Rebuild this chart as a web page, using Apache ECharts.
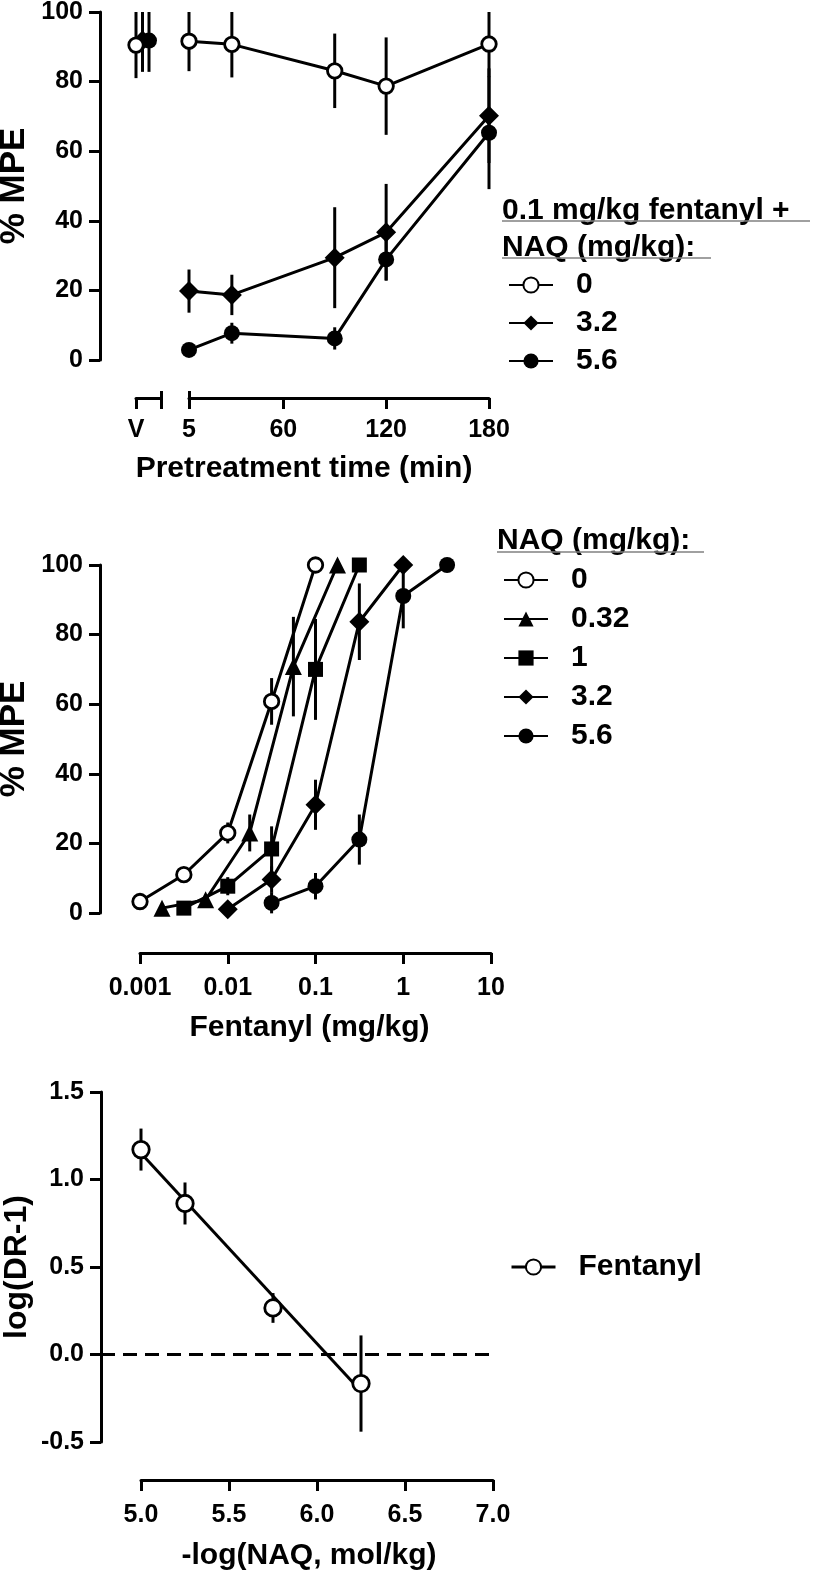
<!DOCTYPE html>
<html>
<head>
<meta charset="utf-8">
<script src="https://cdn.jsdelivr.net/npm/echarts@6.0.0/dist/echarts.min.js"></script>
<style>
  html, body { margin: 0; padding: 0; background: #fff; }
  #chart { width: 813px; height: 1570px; }
</style>
</head>
<body>
<div id="chart"></div>
<script>
// ---- panel A: 0.1 mg/kg fentanyl + NAQ, time course ----
var times = [5, 30, 90, 120, 180]
var timeTicks = [5, 60, 120, 180]
var naq0Mean = [91.6, 90.7, 83.1, 78.7, 90.8]
var naq0Sem = [8.6, 9.5, 10.7, 14, 9.5]
var naq32Mean = [19.8, 18.7, 29.4, 36.7, 70.2]
var naq32Sem = [6.2, 5.8, 14.5, 13.9, 13.6]
var naq56Mean = [2.9, 7.7, 6.2, 28.9, 65.3]
var naq56Sem = [1, 3, 3.2, 6, 16.2]
// vehicle points (V), order: 0, 3.2, 5.6
var vehMean = [90.5, 91.8, 91.8]
var vehSem = [9.5, 9, 9]

// ---- panel B: fentanyl dose-effect curves ----
var dose0 = [0.001, 0.00316, 0.01, 0.0316, 0.1]
var mpe0 = [3.3, 11, 23, 60.8, 100]
var sem0 = [0.5, 1, 3, 6.7, 0]
var dose032 = [0.00178, 0.0056, 0.0178, 0.056, 0.178]
var mpe032 = [1.4, 3.8, 23, 70.8, 100]
var sem032 = [0.5, 1, 5.3, 14.3, 0]
var dose1 = [0.00316, 0.01, 0.0316, 0.1, 0.316]
var mpe1 = [1.4, 7.7, 18.4, 70, 100]
var sem1 = [0.5, 2.6, 6.5, 14.5, 0]
var dose32 = [0.01, 0.0316, 0.1, 0.316, 1]
var mpe32 = [1.1, 9.6, 31.1, 83.7, 100]
var sem32 = [0.5, 3.8, 7.2, 11, 0]
var dose56 = [0.0316, 0.1, 0.316, 1, 3.16]
var mpe56 = [2.9, 7.7, 21.1, 91.1, 100]
var sem56 = [3, 3.8, 7.2, 9.3, 0]

// ---- panel C: Schild plot ----
var negLogNaq = [5.0, 5.25, 5.75, 6.25]
var logDr = [1.171, 0.863, 0.266, -0.166]
var logDrSem = [0.12, 0.12, 0.085, 0.275]
var fitX = [5.0, 6.25]
var fitY = [1.15, -0.21]
var refLevel = 0

var font = '"Liberation Sans", Arial, sans-serif'
var black = '#000'
var lw = 3
var tickText = { color: black, fontSize: 25, fontWeight: 'bold', fontFamily: font }
var bigText = { color: black, fontSize: 30, fontWeight: 'bold', fontFamily: font }

var markers = {
  open: { symbol: 'circle', symbolSize: 14.5, itemStyle: { color: '#fff', borderColor: black, borderWidth: 2.8 } },
  diamond: { symbol: 'diamond', symbolSize: 20, itemStyle: { color: black } },
  dot: { symbol: 'circle', symbolSize: 16, itemStyle: { color: black } },
  triangle: { symbol: 'triangle', symbolSize: 17, itemStyle: { color: black } },
  square: { symbol: 'rect', symbolSize: 15, itemStyle: { color: black } }
}

function pairs(xs, ys) {
  return xs.map(function(x, i) { return [x, ys[i]] })
}

var axisLineStyle = { show: true, onZero: false, lineStyle: { color: black, width: lw } }

function xAxisBase(grid, extra) {
  return Object.assign({
    gridIndex: grid,
    type: 'value',
    position: 'bottom',
    axisLine: axisLineStyle,
    axisTick: { show: true, length: 11, lineStyle: { color: black, width: lw } },
    axisLabel: Object.assign({ margin: 21 }, tickText),
    splitLine: { show: false },
    nameLocation: 'middle',
    nameMoveOverlap: false,
    nameTextStyle: bigText
  }, extra)
}

function yAxisBase(grid, extra) {
  return Object.assign({
    gridIndex: grid,
    type: 'value',
    position: 'left',
    axisLine: axisLineStyle,
    axisTick: { show: true, length: 11, lineStyle: { color: black, width: lw } },
    axisLabel: Object.assign({ margin: 17 }, tickText),
    splitLine: { show: false },
    nameLocation: 'middle',
    nameMoveOverlap: false,
    nameGap: 68,
    nameTextStyle: Object.assign({}, bigText, { fontSize: 35 })
  }, extra)
}

function hiddenAxis(grid, min, max) {
  return { gridIndex: grid, type: 'value', min: min, max: max, show: false }
}

// short upward marks where the broken time axis resumes
function breakMarks(grid, min, max, at) {
  return {
    gridIndex: grid, type: 'value', position: 'bottom', offset: 38, min: min, max: max,
    axisLine: { show: false, onZero: false },
    axisTick: { show: true, inside: true, length: 7, customValues: at, lineStyle: { color: black, width: lw } },
    axisLabel: { show: false },
    splitLine: { show: false }
  }
}

// line + markers
function curve(name, axis, xs, ys, marker, z, extra) {
  return Object.assign({
    name: name,
    type: 'line',
    xAxisIndex: axis,
    yAxisIndex: axis,
    data: pairs(xs, ys),
    z: z,
    clip: false,
    animation: false,
    lineStyle: { color: black, width: lw },
    emphasis: { disabled: true }
  }, marker, extra)
}

// vertical SEM bars, no caps, cut at the axis max
function semBars(axis, xs, means, sems, yMax, nudge) {
  return {
    type: 'custom',
    xAxisIndex: axis,
    yAxisIndex: axis,
    z: 1,
    silent: true,
    animation: false,
    data: xs.map(function(x, i) { return [x, means[i], sems[i]] }),
    renderItem: function(params, api) {
      var x = api.value(0)
      var m = api.value(1)
      var s = api.value(2)
      var top = api.coord([x, Math.min(m + s, yMax)])
      var bot = api.coord([x, m - s])
      return {
        type: 'line',
        shape: { x1: top[0] + nudge, y1: top[1], x2: bot[0] + nudge, y2: bot[1] },
        style: { stroke: black, lineWidth: lw }
      }
    }
  }
}

function legendBox(names, left, top, gap, extra) {
  return Object.assign({
    data: names,
    orient: 'vertical',
    left: left,
    top: top,
    padding: 0,
    itemWidth: 44,
    itemHeight: 19,
    itemGap: gap,
    selectedMode: false,
    textStyle: Object.assign({ padding: [0, 0, 0, 18], lineHeight: 30 }, bigText)
  }, extra)
}

var hdrStyle = { fill: black, font: 'bold 30px "Liberation Sans", Arial, sans-serif', align: 'left', verticalAlign: 'middle' }
var ruleStyle = { stroke: '#808080', lineWidth: 1.5 }

var vehNudge = [0, 6.5, 13]

var option = {
  backgroundColor: '#fff',
  animation: false,
  grid: [
    { left: 189, top: 12, width: 300, height: 348, outerBoundsMode: 'none' },
    { left: 136, top: 12, width: 25, height: 348, outerBoundsMode: 'none' },
    { left: 140, top: 565, width: 351, height: 348, outerBoundsMode: 'none' },
    { left: 141, top: 1092, width: 352, height: 350, outerBoundsMode: 'none' },
    { left: 101, top: 1092, width: 392, height: 350, outerBoundsMode: 'none' }
  ],
  xAxis: [
    xAxisBase(0, {
      min: 5, max: 180, offset: 38,
      axisTick: { show: true, length: 11, customValues: timeTicks, lineStyle: { color: black, width: lw } },
      axisLabel: Object.assign({ margin: 20, customValues: timeTicks }, tickText),
      name: 'Pretreatment time (min)', nameGap: 56,
      nameTextStyle: Object.assign({ padding: [0, 70, 0, 0] }, bigText)
    }),
    xAxisBase(1, {
      min: 0, max: 1, interval: 1, offset: 38,
      axisLabel: Object.assign({ margin: 20, formatter: function(v) { return v === 0 ? 'V' : '' } }, tickText)
    }),
    xAxisBase(2, {
      type: 'log', logBase: 10, min: 0.001, max: 10, offset: 40,
      axisLabel: Object.assign({ margin: 23, formatter: function(v) { return String(+(+v).toPrecision(1)) } }, tickText),
      name: 'Fentanyl (mg/kg)', nameGap: 60,
      nameTextStyle: Object.assign({ padding: [0, 12, 0, 0] }, bigText)
    }),
    xAxisBase(3, {
      min: 5, max: 7, interval: 0.5, offset: 38,
      axisLabel: Object.assign({ margin: 23, formatter: function(v) { return v.toFixed(1) } }, tickText),
      name: '-log(NAQ, mol/kg)', nameGap: 61,
      nameTextStyle: Object.assign({ padding: [0, 16, 0, 0] }, bigText)
    }),
    hiddenAxis(4, 0, 1),
    breakMarks(1, 0, 1, [1]),
    breakMarks(0, 5, 180, [5])
  ],
  yAxis: [
    yAxisBase(0, { min: 0, max: 100, interval: 20, offset: 89, name: '% MPE' }),
    hiddenAxis(1, 0, 100),
    yAxisBase(2, { min: 0, max: 100, interval: 20, offset: 40, name: '% MPE' }),
    yAxisBase(3, {
      min: -0.5, max: 1.5, interval: 0.5, offset: 40, name: 'log(DR-1)',
      nameTextStyle: Object.assign({}, bigText, { fontSize: 32 }),
      axisLabel: Object.assign({ margin: 17, formatter: function(v) { return v.toFixed(1) } }, tickText)
    }),
    hiddenAxis(4, -0.5, 1.5)
  ],
  legend: [
    legendBox(['0', '3.2', '5.6'], 508, 270, 8),
    legendBox(['0', '0.32', '1', '3.2', '5.6'], 503, 565, 9),
    legendBox(['Fentanyl'], 510, 1252, 8, { lineStyle: { width: lw, color: black } })
  ],
  graphic: [
    { type: 'text', x: 502, y: 211, silent: true, style: Object.assign({ text: '0.1 mg/kg fentanyl +' }, hdrStyle) },
    { type: 'line', silent: true, shape: { x1: 502, y1: 221, x2: 810, y2: 221 }, style: ruleStyle },
    { type: 'text', x: 502, y: 248, silent: true, style: Object.assign({ text: 'NAQ (mg/kg):' }, hdrStyle) },
    { type: 'line', silent: true, shape: { x1: 502, y1: 258, x2: 711, y2: 258 }, style: ruleStyle },
    { type: 'text', x: 497, y: 541, silent: true, style: Object.assign({ text: 'NAQ (mg/kg):' }, hdrStyle) },
    { type: 'line', silent: true, shape: { x1: 497, y1: 552, x2: 704, y2: 552 }, style: ruleStyle }
  ],
  series: [
    // panel A
    semBars(0, times, naq56Mean, naq56Sem, 100, 0),
    semBars(0, times, naq32Mean, naq32Sem, 100, 0),
    semBars(0, times, naq0Mean, naq0Sem, 100, 0),
    curve('5.6', 0, times, naq56Mean, markers.dot, 3),
    curve('3.2', 0, times, naq32Mean, markers.diamond, 4),
    curve('0', 0, times, naq0Mean, markers.open, 5),
    semBars(1, [0], [vehMean[1]], [vehSem[1]], 100, vehNudge[1]),
    semBars(1, [0], [vehMean[2]], [vehSem[2]], 100, vehNudge[2]),
    semBars(1, [0], [vehMean[0]], [vehSem[0]], 100, vehNudge[0]),
    curve('V 3.2', 1, [0], [vehMean[1]], markers.diamond, 3, { symbolOffset: [vehNudge[1], 0] }),
    curve('V 5.6', 1, [0], [vehMean[2]], markers.dot, 4, { symbolOffset: [vehNudge[2], 0] }),
    curve('V 0', 1, [0], [vehMean[0]], markers.open, 5, { symbolOffset: [vehNudge[0], 0] }),
    // panel B
    semBars(2, dose0, mpe0, sem0, 100, 0),
    semBars(2, dose032, mpe032, sem032, 100, 0),
    semBars(2, dose1, mpe1, sem1, 100, 0),
    semBars(2, dose32, mpe32, sem32, 100, 0),
    semBars(2, dose56, mpe56, sem56, 100, 0),
    curve('5.6', 2, dose56, mpe56, markers.dot, 3),
    curve('3.2', 2, dose32, mpe32, markers.diamond, 3),
    curve('1', 2, dose1, mpe1, markers.square, 3),
    curve('0.32', 2, dose032, mpe032, markers.triangle, 3),
    curve('0', 2, dose0, mpe0, markers.open, 4),
    // panel C
    {
      type: 'line', xAxisIndex: 4, yAxisIndex: 4, z: 1, silent: true, animation: false,
      data: [[0, refLevel], [1, refLevel]], symbol: 'none',
      lineStyle: { color: black, width: lw, type: [14, 8] }
    },
    {
      type: 'line', xAxisIndex: 3, yAxisIndex: 3, z: 2, silent: true, animation: false,
      data: pairs(fitX, fitY), symbol: 'none',
      lineStyle: { color: black, width: lw }
    },
    semBars(3, negLogNaq, logDr, logDrSem, 1.5, 0),
    curve('Fentanyl', 3, negLogNaq, logDr, markers.open, 4, {
      symbolSize: 16.5,
      lineStyle: { color: black, width: 0 }
    })
  ]
}

var myChart = echarts.init(document.getElementById('chart'), null, { renderer: 'canvas' })
myChart.setOption(option)
</script>
</body>
</html>
